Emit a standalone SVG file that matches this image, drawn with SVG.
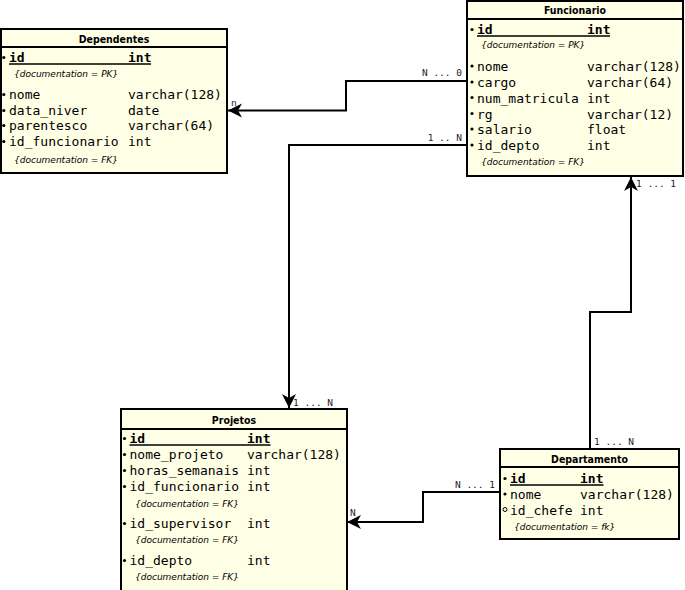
<svg xmlns="http://www.w3.org/2000/svg" width="685" height="590" viewBox="0 0 685 590">
<style>
.box{fill:#ffffe6;stroke:#000;stroke-width:2}
.sep{stroke:#000;stroke-width:2}
.title{font-family:"DejaVu Sans Condensed","DejaVu Sans",sans-serif;font-weight:bold;font-size:10.5px;text-anchor:middle;fill:#000}
.col{font-family:"DejaVu Sans Mono","Liberation Mono",monospace;font-size:13px;fill:#000}
.pk{font-weight:bold}
.doc{font-family:"DejaVu Sans",sans-serif;font-style:italic;font-size:9px;fill:#000}
.ul{stroke:#000;stroke-width:1.3}
.dot{fill:#000}
.odot{fill:none;stroke:#000;stroke-width:1}
.conn{fill:none;stroke:#000;stroke-width:2}
.lbl{font-family:"DejaVu Sans Mono","Liberation Mono",monospace;font-size:9.5px;fill:#222}
</style>
<defs>
<marker id="arr" viewBox="-15 -8 16 16" refX="0" refY="0" markerWidth="16" markerHeight="16" markerUnits="userSpaceOnUse" orient="auto">
<path d="M0,0 L-14,-7 L-10,0 L-14,7 Z" fill="#000"/>
</marker>
</defs>

<g id="connectors">
<polyline class="conn" points="467,81 346,81 346,110.5 228,110.5" marker-end="url(#arr)"/>
<polyline class="conn" points="467,145 289,145 289,408" marker-end="url(#arr)"/>
<polyline class="conn" points="590,449 590,312 631,312 631,177" marker-end="url(#arr)"/>
<polyline class="conn" points="499,492 423,492 423,522 347,522" marker-end="url(#arr)"/>
<text class="lbl" x="462" y="76" text-anchor="end">N ... 0</text>
<text class="lbl" x="231" y="106">n</text>
<text class="lbl" x="462" y="141" text-anchor="end">1 .. N</text>
<text class="lbl" x="293" y="406">1 ... N</text>
<text class="lbl" x="636" y="187">1 ... 1</text>
<text class="lbl" x="594" y="445">1 ... N</text>
<text class="lbl" x="495" y="488" text-anchor="end">N ... 1</text>
<text class="lbl" x="350" y="516">N</text>
</g>

<g id="Dependentes">
<rect class="box" x="1" y="29" width="226" height="144"/>
<line class="sep" x1="1" y1="47" x2="227" y2="47"/>
<text class="title" x="114" y="43">Dependentes</text>
<circle class="dot" cx="3.8" cy="57.5" r="1.6"/>
<text class="col pk" x="9" y="62">id</text><text class="col pk" x="128" y="62">int</text>
<line class="ul" x1="9" y1="64" x2="151" y2="64"/>
<text class="doc" x="14" y="77">{documentation = PK}</text>
<circle class="dot" cx="3.8" cy="94.5" r="1.6"/>
<text class="col" x="9" y="99">nome</text><text class="col" x="128" y="99">varchar(128)</text>
<circle class="dot" cx="3.8" cy="110.5" r="1.6"/>
<text class="col" x="9" y="115">data_niver</text><text class="col" x="128" y="115">date</text>
<circle class="dot" cx="3.8" cy="125.5" r="1.6"/>
<text class="col" x="9" y="130">parentesco</text><text class="col" x="128" y="130">varchar(64)</text>
<circle class="dot" cx="3.8" cy="141.5" r="1.6"/>
<text class="col" x="9" y="146">id_funcionario</text><text class="col" x="128" y="146">int</text>
<text class="doc" x="14" y="163">{documentation = FK}</text>
</g>

<g id="Funcionario">
<rect class="box" x="467" y="1" width="216" height="175"/>
<line class="sep" x1="467" y1="19" x2="683" y2="19"/>
<text class="title" x="575" y="14">Funcionario</text>
<circle class="dot" cx="472" cy="29.5" r="1.6"/>
<text class="col pk" x="477" y="34">id</text><text class="col pk" x="587" y="34">int</text>
<line class="ul" x1="477" y1="36" x2="610" y2="36"/>
<text class="doc" x="481" y="48">{documentation = PK}</text>
<circle class="dot" cx="472" cy="66" r="1.6"/>
<text class="col" x="477" y="71">nome</text><text class="col" x="587" y="71">varchar(128)</text>
<circle class="dot" cx="472" cy="82" r="1.6"/>
<text class="col" x="477" y="87">cargo</text><text class="col" x="587" y="87">varchar(64)</text>
<circle class="dot" cx="472" cy="97.5" r="1.6"/>
<text class="col" x="477" y="102.5">num_matricula</text><text class="col" x="587" y="102.5">int</text>
<circle class="dot" cx="472" cy="113.5" r="1.6"/>
<text class="col" x="477" y="118.5">rg</text><text class="col" x="587" y="118.5">varchar(12)</text>
<circle class="dot" cx="472" cy="129" r="1.6"/>
<text class="col" x="477" y="134">salario</text><text class="col" x="587" y="134">float</text>
<circle class="dot" cx="472" cy="145" r="1.6"/>
<text class="col" x="477" y="150">id_depto</text><text class="col" x="587" y="150">int</text>
<text class="doc" x="481" y="165">{documentation = FK}</text>
</g>

<g id="Projetos">
<rect class="box" x="121" y="409" width="226" height="190"/>
<line class="sep" x1="121" y1="429" x2="347" y2="429"/>
<text class="title" x="234" y="424">Projetos</text>
<circle class="dot" cx="124.5" cy="438.5" r="1.6"/>
<text class="col pk" x="129.5" y="443">id</text><text class="col pk" x="247" y="443">int</text>
<line class="ul" x1="129.5" y1="445" x2="270.5" y2="445"/>
<circle class="dot" cx="124.5" cy="454.5" r="1.6"/>
<text class="col" x="129.5" y="459">nome_projeto</text><text class="col" x="247" y="459">varchar(128)</text>
<circle class="dot" cx="124.5" cy="470.5" r="1.6"/>
<text class="col" x="129.5" y="475">horas_semanais</text><text class="col" x="247" y="475">int</text>
<circle class="dot" cx="124.5" cy="486.5" r="1.6"/>
<text class="col" x="129.5" y="491">id_funcionario</text><text class="col" x="247" y="491">int</text>
<text class="doc" x="135" y="507">{documentation = FK}</text>
<circle class="dot" cx="124.5" cy="523.5" r="1.6"/>
<text class="col" x="129.5" y="528">id_supervisor</text><text class="col" x="247" y="528">int</text>
<text class="doc" x="135" y="543">{documentation = FK}</text>
<circle class="dot" cx="124.5" cy="560.5" r="1.6"/>
<text class="col" x="129.5" y="565">id_depto</text><text class="col" x="247" y="565">int</text>
<text class="doc" x="135" y="580">{documentation = FK}</text>
</g>

<g id="Departamento">
<rect class="box" x="500" y="449" width="179" height="90"/>
<line class="sep" x1="500" y1="467" x2="679" y2="467"/>
<text class="title" x="589.5" y="463">Departamento</text>
<circle class="dot" cx="505" cy="478.5" r="1.6"/>
<text class="col pk" x="510" y="483">id</text><text class="col pk" x="580" y="483">int</text>
<line class="ul" x1="510" y1="485" x2="603.5" y2="485"/>
<circle class="dot" cx="505" cy="494" r="1.6"/>
<text class="col" x="510" y="498.5">nome</text><text class="col" x="580" y="498.5">varchar(128)</text>
<circle class="odot" cx="505" cy="509.5" r="2"/>
<text class="col" x="510" y="514.5">id_chefe</text><text class="col" x="580" y="514.5">int</text>
<text class="doc" x="514" y="530">{documentation = fk}</text>
</g>
</svg>
